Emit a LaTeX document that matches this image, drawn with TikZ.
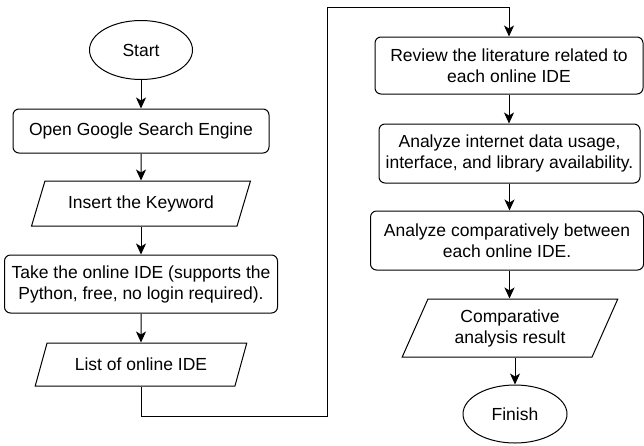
\documentclass[tikz,border=0pt]{standalone}
\usepackage{fontspec}
\setmainfont{Liberation Sans}
\usetikzlibrary{shapes.geometric,arrows.meta}

\begin{document}
\begin{tikzpicture}[x=1pt, y=-1pt,
    box/.style={draw, line width=1pt, rounded corners=6pt, inner sep=0pt, align=center,
        font=\fontsize{17.5}{21}\selectfont},
    io/.style={draw, line width=1pt, trapezium, trapezium stretches=true, inner sep=0pt,
        align=center, font=\fontsize{17.5}{21}\selectfont},
    term/.style={draw, line width=1pt, ellipse, inner sep=0pt,
        font=\fontsize{17.5}{21}\selectfont},
    arr/.style={line width=1pt, -{Stealth[length=11pt, width=10pt, inset=3pt]}}]
    \useasboundingbox (0,0) rectangle (644,445);

    % 左列
    \node[term, minimum width=103pt, minimum height=59pt] (start) at (141,50) {Start};
    \node[box, minimum width=256pt, minimum height=44pt] (google) at (141,131) {Open Google Search Engine};
    \node[io, trapezium left angle=58, trapezium right angle=122,
        minimum width=219pt, minimum height=45pt] (keyword) at (141,203.5) {Insert the Keyword};
    \node[box, minimum width=273pt, minimum height=58pt] (take) at (141,284)
        {Take the online IDE (supports the\\Python, free, no login required).};
    \node[io, trapezium left angle=57, trapezium right angle=123,
        minimum width=212pt, minimum height=43pt] (list) at (141,364.5) {List of online IDE};

    % 右列
    \node[box, minimum width=268pt, minimum height=57pt] (review) at (509,65.5)
        {Review the literature related to\\each online IDE};
    \node[box, minimum width=261pt, minimum height=59pt] (usage) at (509.5,153.5)
        {Analyze internet data usage,\\interface, and library availability.};
    \node[box, minimum width=273pt, minimum height=59pt] (compare) at (507,240.5)
        {Analyze comparatively between\\each online IDE.};
    \node[io, trapezium left angle=65, trapezium right angle=115,
        minimum width=216pt, minimum height=58pt] (result) at (510,328)
        {Comparative\\analysis result};
    \node[term, minimum width=104pt, minimum height=58pt] (finish) at (515,414) {Finish};

    % 连线
    \draw[arr] (start) -- (google);
    \draw[arr] (google) -- (keyword);
    \draw[arr] (keyword) -- (take);
    \draw[arr] (take) -- (list);
    \coordinate (bendlow) at (327,416);
    \coordinate (bendtop) at (327,7);
    \draw[arr] (list.south) |- (bendlow) -- (bendtop) -| (review.north);
    \draw[arr] (review.south) -- (review.south |- usage.north);
    \draw[arr] (usage.south) -- (usage.south |- compare.north);
    \draw[arr] (compare.south -| usage.south) -- (result.north -| usage.south);
    \draw[arr] (result.south -| finish) -- (finish);
\end{tikzpicture}
\end{document}
